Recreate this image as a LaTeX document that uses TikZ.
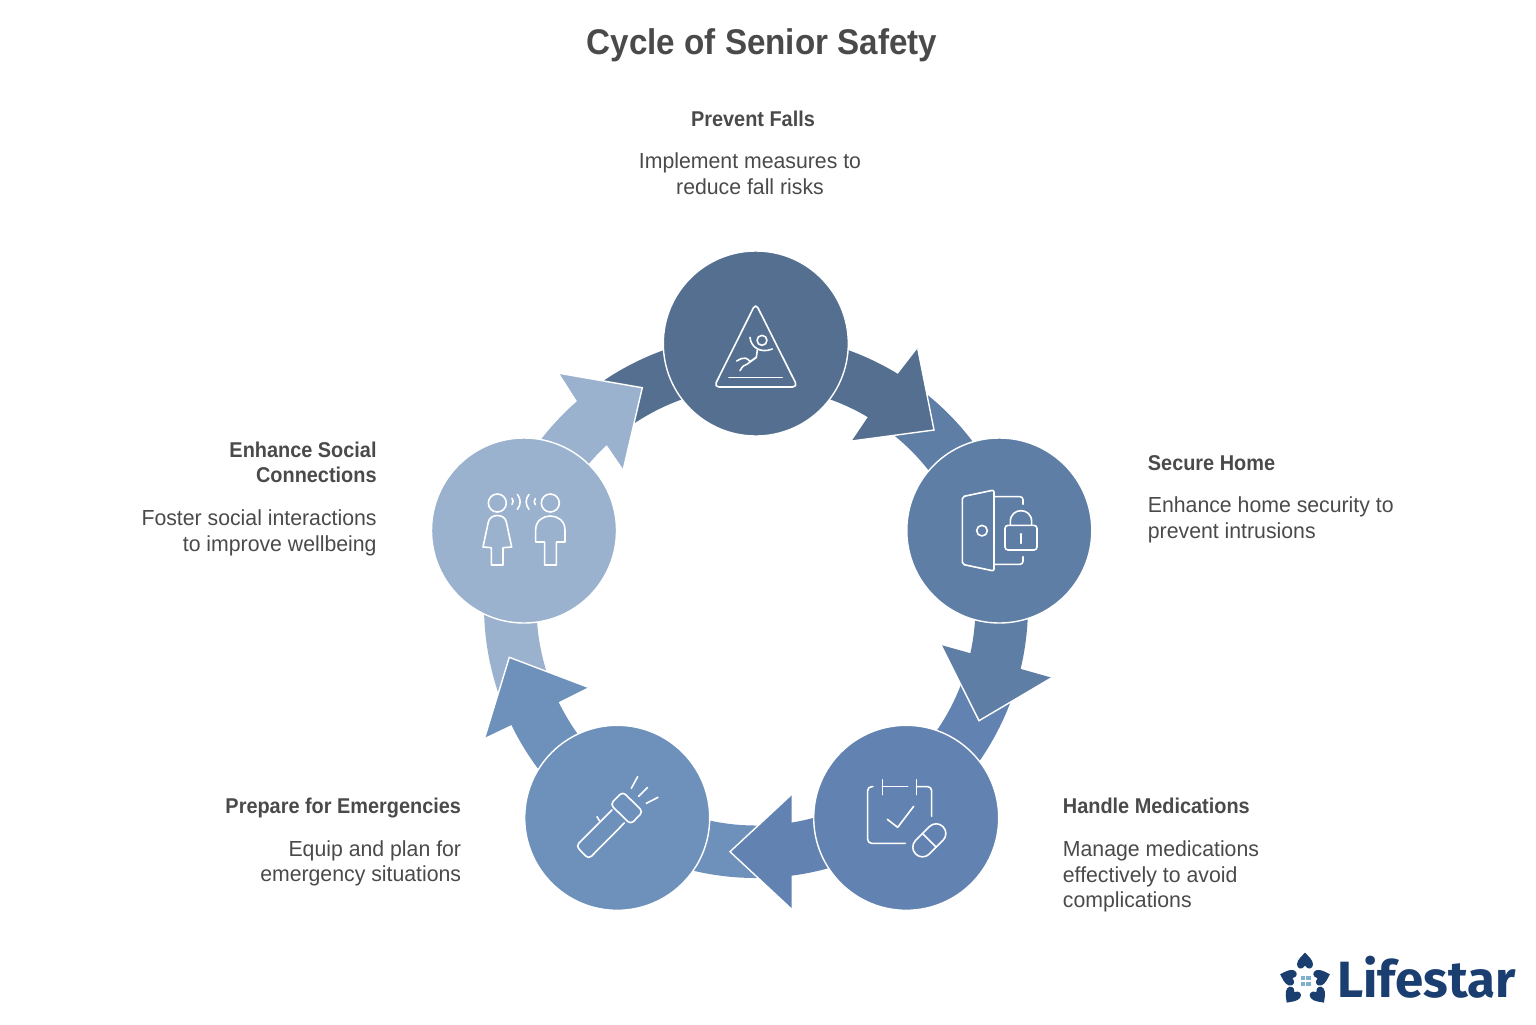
\documentclass[tikz,border=0pt]{standalone}
\usepackage{fontspec}
\setmainfont{Liberation Sans}[FakeStretch=0.975, BoldFeatures={FakeStretch=0.93}]
\newfontfamily\logofont{Fira Sans}
\definecolor{stepone}{HTML}{546F90}
\definecolor{steptwo}{HTML}{5F7EA6}
\definecolor{stepthree}{HTML}{6283B1}
\definecolor{stepfour}{HTML}{6E91BC}
\definecolor{stepfive}{HTML}{9BB2CF}
\definecolor{inkgray}{HTML}{4A4A4A}
\definecolor{logoblue}{HTML}{1A3E6F}
\definecolor{logosky}{HTML}{7FB0CC}
\newcommand{\petalpath}{(0,-27) .. controls (8,-18) and (24,-6) .. (24,8)
	.. controls (24,22) and (8,26) .. (0,12)
	.. controls (-8,26) and (-24,22) .. (-24,8)
	.. controls (-24,-6) and (-8,-18) .. (0,-27) -- cycle}
\tikzset{
	stepdisc/.style={circle, draw=white, line width=0.7pt, minimum size=92.5pt, inner sep=0pt},
	headedge/.style={draw=white, line width=0.7pt},
	iconline/.style={draw=white, line width=0.8pt, line cap=round, line join=round},
	headlabel/.style={inner sep=0pt, text=inkgray, font=\fontsize{10.7}{12.8}\selectfont\bfseries},
	bodylabel/.style={inner sep=0pt, text=inkgray, font=\fontsize{10.9}{12.8}\selectfont}
}
\begin{document}
\begin{tikzpicture}[x=0.5pt, y=-0.5pt]
	\useasboundingbox (0,0) rectangle (1536,1024);

	% Title
	\node[inner sep=0pt, text=inkgray, font=\fontsize{17.85}{20}\selectfont\bfseries] (title) at (762,45) {Cycle of Senior Safety};

	% Ring pieces, each one runs from the previous head to its own head
	\begin{scope}[shift={(756,606)}]
		\fill[stepone] (-128:272) arc[start angle=-128, end angle=-58, radius=272] -- (-58:219.5) arc[start angle=-58, end angle=-128, radius=219.5] -- cycle;
		\fill[steptwo] (-54:272) arc[start angle=-54, end angle=14.5, radius=272] -- (14.5:219.5) arc[start angle=14.5, end angle=-54, radius=219.5] -- cycle;
		\fill[stepthree] (18:272) arc[start angle=18, end angle=84, radius=272] -- (84:219.5) arc[start angle=84, end angle=18, radius=219.5] -- cycle;
		\fill[stepfour] (88:272) arc[start angle=88, end angle=155.5, radius=272] -- (155.5:219.5) arc[start angle=155.5, end angle=88, radius=219.5] -- cycle;
		\fill[stepfive] (160:272) arc[start angle=160, end angle=230, radius=272] -- (230:219.5) arc[start angle=230, end angle=160, radius=219.5] -- cycle;
	\end{scope}

	% Arrow heads
	\fill[stepone] (898.3,373.3) -- (917.7,348.3) -- (934,430) -- (851.7,441) -- (867.7,417.3) -- cycle;
	\draw[headedge] (917.7,348.3) -- (934,430) -- (851.7,441);
	\fill[steptwo] (1021,669) -- (1051.7,677.7) -- (979,720.7) -- (941,645) -- (970.7,653.3) -- cycle;
	\draw[headedge] (1051.7,677.7) -- (979,720.7) -- (941,645);
	\fill[stepthree] (791.7,822.7) -- (791.7,794.3) -- (730,851.7) -- (791.7,909.3) -- (791.7,875.7) -- cycle;
	\draw[headedge] (791.7,794.3) -- (730,851.7) -- (791.7,909.3);
	\fill[stepfour] (558.3,702.3) -- (588.3,687.3) -- (509.3,657.3) -- (484.7,737.7) -- (510.7,725.3) -- cycle;
	\draw[headedge] (588.3,687.3) -- (509.3,657.3) -- (484.7,737.7);
	\fill[stepfive] (576.7,400.7) -- (559.3,373.3) -- (642.3,387.7) -- (623.3,469.3) -- (606.7,445) -- cycle;
	\draw[headedge] (559.3,373.3) -- (642.3,387.7) -- (623.3,469.3);

	% Discs
	\node[stepdisc, fill=stepone] (falls) at (755.8,343.5) {};
	\node[stepdisc, fill=steptwo] (home) at (999.3,530.5) {};
	\node[stepdisc, fill=stepthree] (meds) at (906.2,817.8) {};
	\node[stepdisc, fill=stepfour] (prep) at (617.2,817.8) {};
	\node[stepdisc, fill=stepfive] (social) at (524,530.5) {};

	% Warning sign
	\begin{scope}[shift={(660,250)}, scale=0.3333]
		\draw[iconline, rounded corners=2.5pt] (287,160) -- (413,411) -- (162,411) -- cycle;
		\draw[iconline] (207,382) -- (367,382);
		\draw[iconline] (306,271) circle[radius=15];
		\draw[iconline] (270,262) .. controls (272,290) and (300,312) .. (337,297);
		\draw[iconline] (292,300) -- (289,322) -- (270,335) .. controls (262,325) and (255,318) .. (230,333);
		\draw[iconline] (289,322) -- (262,342) .. controls (252,345) and (248,348) .. (240,362);
	\end{scope}

	% Door and lock
	\begin{scope}[shift={(905,436)}, scale=0.3333]
		\draw[iconline, rounded corners=1pt] (172,182) -- (267,162) -- (267,405) -- (172,385) -- cycle;
		\draw[iconline] (231,284) circle[radius=16];
		\draw[iconline, rounded corners=1.5pt] (270,182) -- (354,182) -- (354,205);
		\draw[iconline, rounded corners=1.5pt] (270,385) -- (354,385) -- (354,362);
		\draw[iconline, rounded corners=1.5pt] (300,268) rectangle (396,342);
		\draw[iconline] (316,268) -- (316,257) .. controls (316,213) and (380,213) .. (380,257) -- (380,268);
		\draw[iconline] (348,294) -- (348,322);
		\fill[white] (348,295) circle[radius=4];
	\end{scope}

	% Calendar and pill
	\begin{scope}[shift={(811,724)}, scale=0.3333]
		\draw[iconline, rounded corners=2pt] (186,188) -- (170,188) -- (170,358) -- (283,358);
		\draw[iconline] (214,188) -- (290,188);
		\draw[iconline] (214,167) -- (214,212);
		\draw[iconline, rounded corners=2pt] (316,188) -- (362,188) -- (362,277);
		\draw[iconline] (316,167) -- (316,212);
		\draw[iconline] (229,286) -- (260,310) -- (308,247);
		\draw[iconline, rounded corners=4.8pt, rotate around={45:(355,349)}] (297,320) rectangle (413,378);
		\draw[iconline] (334,328) -- (376,370);
	\end{scope}

	% Flashlight
	\begin{scope}[shift={(522,724)}, scale=0.3333]
		\draw[iconline, rounded corners=2pt] (270,258) -- (162,366) -- (200,405) -- (307,297);
		\draw[iconline, rounded corners=2pt] (265,241) -- (302,203) -- (363,263) -- (326,301) -- cycle;
		\draw[iconline] (232,290) -- (225,278);
		\draw[iconline] (328,193) -- (347,158);
		\draw[iconline] (350,217) -- (377,190);
		\draw[iconline] (373,238) -- (408,220);
	\end{scope}

	% Two people talking
	\begin{scope}[shift={(429,436)}, scale=0.3333]
		\draw[iconline] (205,201) circle[radius=27];
		\draw[iconline] (162,333) -- (178,258) .. controls (183,232) and (227,232) .. (232,258) -- (248,333) -- (222,335) -- (222,387) -- (187,387) -- (187,335) -- cycle;
		\draw[iconline] (364,201) circle[radius=27];
		\draw[iconline] (320,318) -- (320,282) .. controls (320,226) and (408,226) .. (408,282) -- (408,318) -- (382,318) -- (382,387) -- (347,387) -- (347,318) -- cycle;
		\draw[iconline] (249,187) to[bend left=40] (249,205);
		\draw[iconline] (265,175) to[bend left=40] (265,220);
		\draw[iconline] (300,175) to[bend right=40] (300,220);
		\draw[iconline] (319,188) to[bend right=40] (319,206);
	\end{scope}

	% Labels
	\node[headlabel] (fallshead) at (753,119) {Prevent Falls};
	\node[bodylabel, align=center] (fallsbody) at (750,173.5) {Implement measures to\\reduce fall risks};

	\node[headlabel, anchor=west] (homehead) at (1147.5,463) {Secure Home};
	\node[bodylabel, align=left, anchor=west] (homebody) at (1147.5,520) {Enhance home security to\\prevent intrusions};

	\node[headlabel, anchor=west] (medshead) at (1062.5,806) {Handle Medications};
	\node[bodylabel, align=left, anchor=west] (medsbody) at (1062.5,876.5) {Manage medications\\effectively to avoid\\complications};

	\node[headlabel, anchor=east] (prephead) at (461.5,808) {Prepare for Emergencies};
	\node[bodylabel, align=right, anchor=east] (prepbody) at (461.5,863.5) {Equip and plan for\\emergency situations};

	\node[headlabel, align=right, anchor=east] (socialhead) at (377,462.5) {Enhance Social\\Connections};
	\node[bodylabel, align=right, anchor=east] (socialbody) at (377,533) {Foster social interactions\\to improve wellbeing};

	% Logo
	\begin{scope}[shift={(1270,940)}, scale=0.3333]
		\fill[logoblue, shift={(105,65)}] \petalpath;
		\fill[logoblue, shift={(56,111)}, rotate=72] \petalpath;
		\fill[logoblue, shift={(154,111)}, rotate=-72] \petalpath;
		\fill[logoblue, shift={(66,166)}, rotate=144] \petalpath;
		\fill[logoblue, shift={(146,166)}, rotate=-144] \petalpath;
		\fill[logosky] (92,108) rectangle (105,121);
		\fill[logosky] (109,108) rectangle (122,121);
		\fill[logosky] (92,125) rectangle (105,138);
		\fill[logosky] (109,125) rectangle (122,138);
	\end{scope}
	\node[inner sep=0pt, anchor=base west, text=logoblue, font=\logofont\fontsize{25.5}{28}\selectfont\bfseries] (logo) at (1337,997) {Lifestar};
\end{tikzpicture}
\end{document}
